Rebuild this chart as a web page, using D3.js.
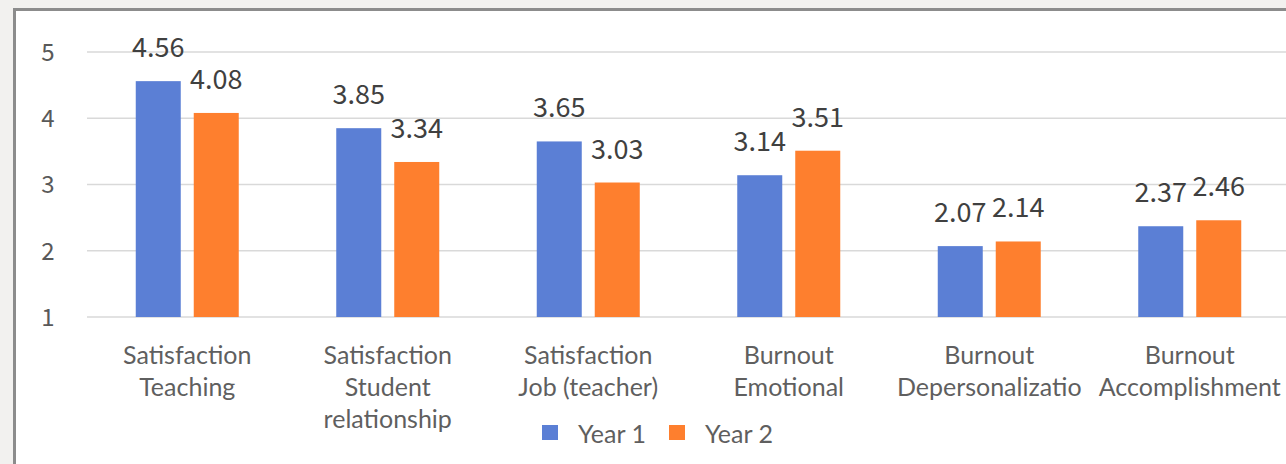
<!DOCTYPE html>
<html><head><meta charset="utf-8">
<script src="https://cdn.jsdelivr.net/npm/d3@7"></script>
<style>
html,body{margin:0;padding:0;background:#f2f1ef;overflow:hidden;}
svg{display:block;}
</style></head>
<body>
<svg id="chart" width="1286" height="464"></svg>
<script>
const categories = [
  ["Satisfaction","Teaching"],
  ["Satisfaction","Student","relationship"],
  ["Satisfaction","Job (teacher)"],
  ["Burnout","Emotional"],
  ["Burnout","Depersonalizatio"],
  ["Burnout","Accomplishment"]
];
const seriesNames = ["Year 1","Year 2"];
const year1 = [4.56, 3.85, 3.65, 3.14, 2.07, 2.37];
const year2 = [4.08, 3.34, 3.03, 3.51, 2.14, 2.46];
const yTicks = [1,2,3,4,5];
const colors = ["#5b7fd5","#fe7f2e"];

const svg = d3.select("#chart");
svg.append("rect").attr("x",14.5).attr("y",9.5).attr("width",1300).attr("height",500)
  .attr("fill","#ffffff").attr("stroke","#8c8c8c").attr("stroke-width",3);

const x = d3.scaleBand().domain(d3.range(categories.length)).range([87,1290]);
const x1 = d3.scaleBand().domain(seriesNames).range([48.75, 151.75]).paddingInner(0.224);
const y = d3.scaleLinear().domain([1,5]).range([317,52]);

const numFont = "'Noto Sans CJK KR', 'Noto Sans', sans-serif";
const txtFont = "Lato, 'Open Sans', sans-serif";

svg.append("g").selectAll("line").data(yTicks).join("line")
  .attr("x1",87).attr("x2",1290).attr("y1",d=>y(d)).attr("y2",d=>y(d))
  .attr("stroke","#d9d9d9").attr("stroke-width",1.5);

const yAxis = d3.axisLeft(y).tickValues(yTicks).tickSize(0).tickPadding(0).tickFormat(d3.format("d"));
const ya = svg.append("g").attr("transform","translate(48,0)").call(yAxis);
ya.select(".domain").remove();
ya.selectAll("text").attr("font-family",numFont).attr("font-size",24).attr("fill","#595959")
  .attr("text-anchor","middle").attr("dy","0.35em");

const data = categories.map((c,i)=>({i, vals:[year1[i],year2[i]]}));
const groups = svg.append("g").selectAll("g").data(data).join("g")
  .attr("transform",d=>`translate(${x(d.i)},0)`);
groups.selectAll("rect").data(d=>d.vals.map((v,k)=>({v,k}))).join("rect")
  .attr("x",d=>x1(seriesNames[d.k])).attr("width",x1.bandwidth())
  .attr("y",d=>y(d.v)).attr("height",d=>y(1)-y(d.v))
  .attr("fill",d=>colors[d.k]);
groups.selectAll("text.val").data(d=>d.vals.map((v,k)=>({v,k}))).join("text")
  .attr("class","val")
  .attr("x",d=>x1(seriesNames[d.k])+x1.bandwidth()/2)
  .attr("y",d=>y(d.v)-24)
  .attr("text-anchor","middle")
  .attr("font-family",numFont).attr("font-size",27).attr("fill","#404040")
  .text(d=>d3.format(".2f")(d.v));

const cl = svg.append("g").selectAll("text").data(data).join("text")
  .attr("x",d=>x(d.i)+x.bandwidth()/2).attr("y",364)
  .attr("text-anchor","middle").attr("font-family",txtFont).attr("font-size",25).attr("fill","#5f5f5f");
cl.selectAll("tspan").data(d=>categories[d.i]).join("tspan")
  .attr("x",function(){return this.parentNode.getAttribute("x");})
  .attr("dy",(d,k)=>k===0?0:32).text(d=>d);

const legend = svg.append("g");
const lx = [542, 669];
seriesNames.forEach((s,k)=>{
  legend.append("rect").attr("x",lx[k]).attr("y",425).attr("width",16).attr("height",15).attr("fill",colors[k]);
  legend.append("text").attr("x",lx[k]+36).attr("y",443).attr("font-family",txtFont).attr("font-size",25)
    .attr("fill","#5f5f5f").text(s);
});
</script>
</body></html>
